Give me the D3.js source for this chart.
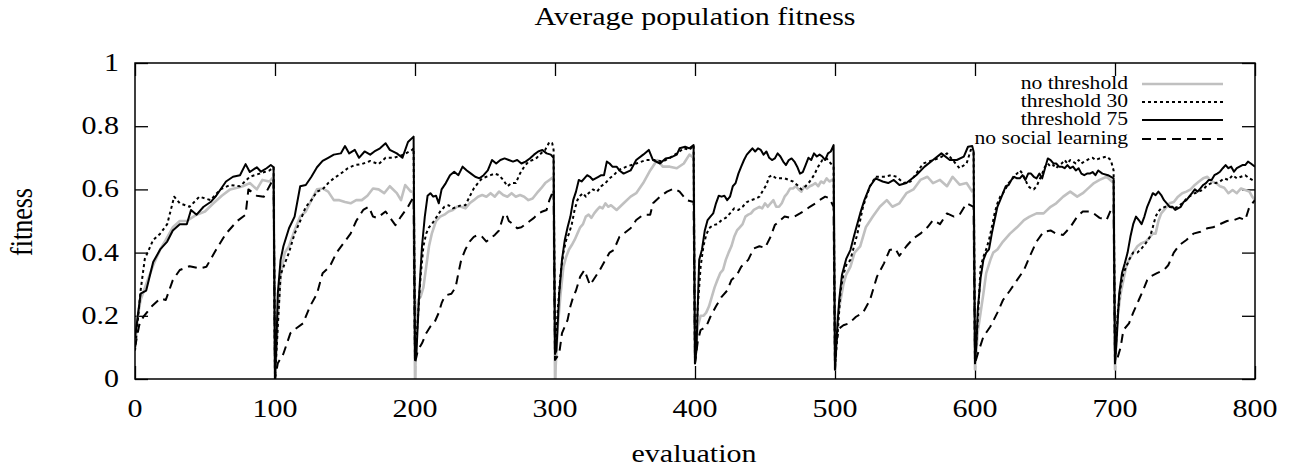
<!DOCTYPE html>
<html><head><meta charset="utf-8">
<script src="https://cdn.jsdelivr.net/npm/d3@7"></script>
<style>
body{margin:0;background:#fff}
svg text{font-family:"Liberation Serif","Times New Roman",serif;fill:#000}
</style>
</head><body>
<svg id="c" width="1289" height="468"></svg>
<script>
const titleText = "Average population fitness";
const xLabelText = "evaluation";
const yLabelText = "fitness";
const seriesNames = ["no threshold","threshold 30","threshold 75","no social learning"];
const xTickValues = [0,100,200,300,400,500,600,700,800];
const xTickLabels = ["0","100","200","300","400","500","600","700","800"];
const yTickValues = [0,0.2,0.4,0.6,0.8,1];
const yTickLabels = ["0","0.2","0.4","0.6","0.8","1"];

// [evaluation, fitness]
const noThreshold = [
[0,0.10],[2,0.2],[4,0.25],[8,0.30],[13,0.36],[18,0.41],[22,0.44],[27,0.48],[32,0.50],[37,0.50],[44,0.52],[50,0.53],[56,0.556],[62,0.58],[68,0.60],[73,0.605],[77,0.61],[82,0.62],[87,0.60],[91,0.63],[96,0.625],[99,0.64],
[100,0.0],[102,0.19],[104,0.33],[107,0.40],[110,0.42],[114,0.47],[118,0.514],[122,0.53],[126,0.566],[130,0.60],[134,0.603],[138,0.593],[142,0.566],[146,0.566],[150,0.56],[154,0.556],[158,0.566],[162,0.566],[166,0.58],[170,0.603],[174,0.60],[178,0.588],[182,0.61],[187,0.588],[190,0.566],[193,0.614],[197,0.593],[199,0.593],
[200,0.0],[202,0.25],[204,0.26],[206,0.29],[208,0.355],[210,0.42],[212,0.46],[215,0.50],[218,0.514],[221,0.52],[224,0.53],[227,0.535],[230,0.545],[233,0.545],[236,0.54],[239,0.556],[242,0.566],[245,0.577],[248,0.582],[251,0.577],[254,0.588],[257,0.577],[260,0.593],[263,0.582],[266,0.577],[269,0.588],[272,0.577],[275,0.582],[278,0.577],[281,0.566],[284,0.571],[287,0.588],[290,0.603],[293,0.62],[296,0.63],[299,0.64],
[300,0.0],[302,0.166],[304,0.27],[306,0.355],[308,0.387],[310,0.41],[312,0.424],[314,0.44],[316,0.46],[318,0.48],[320,0.49],[322,0.514],[324,0.52],[326,0.51],[328,0.524],[330,0.535],[332,0.545],[334,0.54],[336,0.556],[338,0.545],[340,0.55],[344,0.535],[349,0.556],[354,0.577],[358,0.588],[363,0.62],[368,0.66],[373,0.693],[377,0.672],[382,0.672],[387,0.667],[392,0.682],[396,0.71],[399,0.70],
[400,0.05],[402,0.166],[404,0.20],[406,0.20],[408,0.21],[410,0.23],[412,0.26],[414,0.29],[416,0.313],[418,0.335],[420,0.345],[422,0.377],[424,0.40],[426,0.42],[428,0.45],[430,0.47],[432,0.48],[434,0.49],[436,0.514],[438,0.52],[440,0.524],[442,0.535],[444,0.54],[446,0.545],[448,0.54],[450,0.556],[452,0.545],[454,0.556],[456,0.566],[458,0.545],[460,0.545],[462,0.556],[464,0.577],[466,0.588],[468,0.603],[470,0.603],[472,0.61],[474,0.60],[476,0.593],[478,0.61],[480,0.603],[482,0.61],[484,0.614],[486,0.62],[488,0.61],[490,0.625],[492,0.62],[494,0.635],[496,0.625],[498,0.63],[499,0.635],
[500,0.03],[502,0.20],[504,0.25],[506,0.30],[508,0.33],[511,0.355],[514,0.40],[518,0.42],[522,0.48],[527,0.514],[532,0.545],[537,0.566],[541,0.545],[546,0.556],[551,0.588],[556,0.60],[561,0.63],[566,0.64],[570,0.62],[575,0.63],[580,0.61],[584,0.64],[589,0.615],[594,0.62],[598,0.593],[599,0.60],
[600,0.03],[602,0.15],[604,0.21],[606,0.27],[608,0.335],[611,0.377],[613,0.40],[616,0.41],[620,0.435],[625,0.46],[630,0.48],[635,0.503],[639,0.514],[644,0.524],[649,0.524],[654,0.545],[658,0.556],[663,0.577],[668,0.593],[673,0.577],[677,0.588],[680,0.60],[685,0.62],[689,0.63],[694,0.64],[699,0.62],
[700,0.03],[702,0.20],[704,0.27],[706,0.313],[708,0.355],[710,0.377],[713,0.40],[716,0.42],[719,0.43],[722,0.435],[725,0.45],[727,0.46],[729,0.46],[731,0.50],[733,0.524],[736,0.54],[739,0.556],[742,0.56],[745,0.577],[748,0.588],[751,0.593],[754,0.60],[757,0.614],[760,0.625],[763,0.635],[766,0.64],[769,0.625],[772,0.62],[775,0.61],[778,0.605],[781,0.588],[784,0.598],[787,0.588],[790,0.603],[793,0.598],[796,0.593],[798,0.577],[800,0.566]
];

const threshold30 = [
[0,0.09],[4,0.28],[7,0.38],[13,0.44],[18,0.46],[23,0.49],[28,0.577],[32,0.556],[39,0.545],[46,0.577],[54,0.566],[61,0.60],[68,0.614],[75,0.61],[82,0.64],[89,0.65],[96,0.66],[99,0.67],
[100,0.0],[102,0.166],[104,0.33],[107,0.366],[110,0.40],[114,0.46],[118,0.50],[122,0.545],[126,0.566],[130,0.593],[134,0.60],[138,0.62],[142,0.635],[147,0.65],[152,0.667],[157,0.677],[162,0.68],[168,0.69],[174,0.68],[179,0.70],[185,0.70],[192,0.71],[198,0.725],[199,0.73],
[200,0.06],[202,0.187],[204,0.324],[206,0.42],[208,0.46],[210,0.48],[212,0.49],[215,0.51],[218,0.53],[221,0.545],[224,0.55],[227,0.54],[230,0.545],[233,0.55],[236,0.55],[239,0.577],[242,0.603],[245,0.62],[248,0.635],[251,0.64],[254,0.645],[257,0.65],[260,0.645],[263,0.63],[266,0.61],[269,0.62],[272,0.62],[275,0.65],[278,0.672],[281,0.688],[284,0.693],[287,0.70],[290,0.714],[293,0.725],[296,0.75],[298,0.746],[299,0.725],
[300,0.08],[302,0.22],[304,0.335],[306,0.40],[308,0.44],[310,0.46],[312,0.49],[314,0.535],[316,0.566],[318,0.58],[320,0.588],[322,0.577],[324,0.588],[327,0.60],[330,0.593],[333,0.61],[336,0.62],[339,0.635],[342,0.645],[345,0.66],[351,0.672],[358,0.682],[365,0.693],[372,0.693],[377,0.688],[382,0.70],[387,0.714],[392,0.73],[396,0.725],[399,0.74],
[400,0.05],[402,0.23],[404,0.355],[406,0.42],[408,0.456],[410,0.477],[413,0.487],[416,0.49],[419,0.503],[422,0.51],[425,0.524],[428,0.54],[431,0.535],[434,0.545],[437,0.56],[440,0.566],[443,0.57],[446,0.577],[449,0.60],[451,0.614],[453,0.64],[455,0.645],[458,0.635],[461,0.635],[464,0.635],[467,0.63],[470,0.625],[473,0.614],[476,0.60],[479,0.61],[482,0.625],[485,0.645],[488,0.672],[491,0.693],[494,0.698],[497,0.682],[499,0.672],
[500,0.04],[502,0.15],[504,0.28],[506,0.33],[508,0.36],[511,0.377],[516,0.46],[520,0.545],[525,0.61],[529,0.64],[535,0.64],[540,0.645],[544,0.64],[549,0.62],[554,0.625],[558,0.65],[563,0.682],[570,0.693],[575,0.70],[580,0.714],[584,0.693],[589,0.667],[594,0.682],[597,0.725],[599,0.72],
[600,0.05],[602,0.187],[604,0.355],[606,0.387],[608,0.41],[610,0.44],[612,0.48],[614,0.524],[616,0.556],[618,0.577],[620,0.588],[622,0.603],[624,0.62],[626,0.63],[628,0.645],[630,0.65],[632,0.66],[634,0.65],[636,0.63],[638,0.61],[640,0.603],[642,0.60],[644,0.61],[646,0.63],[648,0.65],[650,0.672],[652,0.682],[654,0.672],[656,0.677],[658,0.667],[660,0.677],[662,0.682],[664,0.693],[666,0.682],[668,0.693],[670,0.688],[672,0.682],[674,0.693],[676,0.682],[678,0.688],[680,0.693],[682,0.698],[684,0.70],[686,0.693],[689,0.698],[694,0.704],[697,0.693],[699,0.66],
[700,0.05],[702,0.21],[704,0.29],[706,0.335],[708,0.355],[710,0.377],[713,0.40],[716,0.40],[719,0.413],[722,0.43],[725,0.45],[727,0.48],[729,0.514],[731,0.53],[733,0.54],[736,0.545],[739,0.545],[742,0.54],[745,0.545],[748,0.556],[751,0.57],[754,0.58],[757,0.588],[760,0.593],[763,0.60],[766,0.614],[769,0.62],[772,0.62],[775,0.625],[778,0.635],[781,0.63],[784,0.645],[787,0.635],[790,0.64],[793,0.645],[796,0.635],[800,0.625]
];

const threshold75 = [
[0,0.13],[2,0.2],[4,0.27],[8,0.28],[13,0.37],[18,0.41],[23,0.435],[27,0.47],[32,0.49],[37,0.49],[40,0.535],[44,0.52],[49,0.545],[54,0.56],[58,0.58],[65,0.625],[70,0.64],[75,0.645],[79,0.68],[82,0.655],[87,0.67],[90,0.656],[94,0.667],[97,0.677],[99,0.67],
[100,0.0],[101,0.11],[102,0.27],[104,0.377],[106,0.42],[110,0.477],[114,0.514],[118,0.61],[122,0.614],[126,0.64],[130,0.67],[134,0.69],[138,0.70],[142,0.71],[147,0.714],[150,0.737],[153,0.714],[157,0.725],[160,0.70],[164,0.72],[168,0.71],[171,0.72],[175,0.73],[179,0.746],[182,0.725],[187,0.714],[191,0.70],[195,0.75],[199,0.767],
[200,0.06],[201,0.08],[203,0.27],[205,0.42],[207,0.514],[209,0.58],[211,0.588],[213,0.577],[215,0.58],[217,0.556],[219,0.60],[222,0.62],[225,0.645],[228,0.656],[231,0.645],[234,0.672],[237,0.66],[240,0.65],[243,0.64],[246,0.635],[249,0.645],[252,0.66],[255,0.693],[258,0.682],[261,0.693],[264,0.698],[267,0.693],[270,0.688],[273,0.693],[276,0.682],[279,0.688],[282,0.698],[285,0.71],[288,0.72],[291,0.725],[294,0.714],[297,0.71],[299,0.70],
[300,0.08],[301,0.09],[303,0.27],[305,0.377],[307,0.44],[309,0.48],[311,0.514],[313,0.566],[315,0.593],[317,0.63],[319,0.625],[321,0.635],[323,0.645],[325,0.64],[327,0.63],[329,0.635],[331,0.64],[333,0.645],[335,0.645],[337,0.688],[339,0.682],[341,0.672],[344,0.672],[346,0.66],[349,0.65],[354,0.66],[358,0.693],[363,0.71],[367,0.725],[370,0.693],[375,0.682],[379,0.698],[382,0.70],[387,0.71],[389,0.73],[393,0.735],[396,0.73],[399,0.74],
[400,0.05],[401,0.09],[403,0.377],[405,0.41],[407,0.47],[409,0.503],[411,0.514],[413,0.524],[415,0.556],[417,0.58],[419,0.577],[421,0.58],[423,0.566],[425,0.577],[427,0.61],[429,0.62],[431,0.65],[433,0.672],[435,0.693],[437,0.71],[439,0.72],[441,0.73],[443,0.72],[445,0.73],[447,0.725],[449,0.71],[451,0.72],[453,0.70],[455,0.693],[457,0.698],[459,0.714],[461,0.704],[463,0.688],[465,0.677],[467,0.693],[469,0.698],[471,0.688],[473,0.672],[475,0.65],[477,0.655],[479,0.677],[481,0.70],[483,0.693],[485,0.714],[487,0.704],[489,0.71],[491,0.704],[493,0.693],[495,0.714],[497,0.72],[499,0.74],
[500,0.03],[501,0.12],[503,0.25],[505,0.33],[508,0.38],[511,0.408],[514,0.46],[518,0.524],[521,0.566],[525,0.61],[529,0.635],[534,0.625],[538,0.62],[542,0.63],[546,0.614],[551,0.62],[558,0.645],[564,0.672],[570,0.693],[576,0.714],[582,0.693],[587,0.693],[592,0.704],[595,0.735],[598,0.737],[599,0.72],
[600,0.05],[601,0.11],[602,0.22],[604,0.32],[606,0.377],[608,0.40],[610,0.41],[612,0.46],[614,0.503],[616,0.545],[618,0.566],[620,0.588],[622,0.61],[624,0.614],[626,0.63],[628,0.64],[630,0.635],[632,0.635],[634,0.645],[636,0.63],[638,0.65],[640,0.65],[642,0.64],[644,0.635],[646,0.65],[648,0.635],[650,0.667],[652,0.698],[654,0.693],[656,0.682],[658,0.682],[660,0.672],[662,0.672],[664,0.667],[666,0.677],[668,0.667],[670,0.672],[672,0.66],[674,0.667],[676,0.65],[678,0.645],[680,0.65],[682,0.65],[684,0.655],[686,0.645],[688,0.66],[691,0.65],[695,0.645],[699,0.635],
[700,0.05],[701,0.113],[703,0.27],[705,0.335],[707,0.366],[709,0.40],[711,0.45],[713,0.49],[715,0.514],[717,0.503],[719,0.49],[721,0.514],[723,0.545],[725,0.566],[727,0.588],[729,0.582],[731,0.593],[733,0.582],[735,0.566],[737,0.556],[739,0.545],[741,0.545],[743,0.535],[745,0.54],[747,0.545],[749,0.56],[751,0.566],[753,0.577],[755,0.588],[757,0.60],[759,0.593],[761,0.603],[763,0.614],[765,0.62],[767,0.63],[769,0.63],[771,0.645],[773,0.65],[775,0.656],[777,0.667],[779,0.677],[781,0.667],[783,0.672],[785,0.656],[787,0.667],[789,0.672],[791,0.677],[793,0.677],[795,0.688],[797,0.682],[800,0.672]
];

const noSocialLearning = [
[0,0.1],[3,0.17],[6,0.197],[12,0.23],[18,0.255],[22,0.25],[27,0.313],[32,0.345],[39,0.357],[46,0.35],[51,0.355],[58,0.41],[65,0.46],[73,0.50],[79,0.52],[81,0.60],[87,0.58],[92,0.577],[96,0.61],[99,0.635],
[100,0.0],[102,0.05],[106,0.08],[111,0.145],[115,0.16],[120,0.176],[125,0.23],[130,0.27],[134,0.335],[139,0.355],[144,0.40],[149,0.43],[154,0.46],[158,0.50],[163,0.535],[167,0.545],[170,0.514],[173,0.51],[179,0.53],[186,0.487],[190,0.514],[195,0.545],[199,0.577],
[200,0.05],[202,0.09],[205,0.113],[208,0.145],[211,0.166],[214,0.18],[217,0.21],[219,0.24],[221,0.26],[223,0.266],[226,0.27],[229,0.29],[231,0.335],[233,0.377],[236,0.41],[239,0.435],[242,0.45],[245,0.456],[248,0.45],[251,0.435],[254,0.445],[257,0.456],[260,0.47],[263,0.514],[265,0.524],[267,0.50],[270,0.49],[273,0.477],[276,0.48],[279,0.49],[282,0.50],[285,0.51],[288,0.524],[291,0.53],[294,0.535],[296,0.566],[298,0.588],[299,0.60],
[300,0.06],[303,0.08],[305,0.145],[307,0.166],[309,0.187],[311,0.23],[313,0.26],[315,0.28],[318,0.324],[321,0.345],[325,0.297],[332,0.345],[339,0.40],[342,0.408],[346,0.45],[354,0.477],[358,0.503],[363,0.52],[368,0.52],[370,0.556],[375,0.577],[380,0.593],[385,0.603],[389,0.593],[394,0.566],[399,0.56],
[400,0.05],[402,0.12],[404,0.155],[408,0.166],[411,0.197],[415,0.23],[419,0.26],[423,0.28],[426,0.313],[430,0.33],[433,0.355],[438,0.377],[442,0.413],[446,0.42],[450,0.415],[454,0.45],[457,0.487],[461,0.503],[464,0.514],[468,0.51],[471,0.514],[475,0.524],[479,0.535],[482,0.545],[486,0.556],[489,0.566],[493,0.577],[496,0.572],[499,0.545],
[500,0.03],[501,0.12],[503,0.16],[506,0.17],[510,0.176],[515,0.197],[520,0.21],[525,0.25],[530,0.324],[535,0.366],[539,0.408],[543,0.413],[546,0.39],[551,0.42],[556,0.445],[561,0.46],[566,0.48],[570,0.503],[575,0.49],[580,0.524],[585,0.514],[589,0.52],[594,0.556],[599,0.545],
[600,0.05],[602,0.08],[606,0.134],[611,0.166],[616,0.21],[620,0.25],[625,0.28],[630,0.313],[635,0.345],[639,0.387],[644,0.435],[649,0.466],[654,0.47],[658,0.46],[663,0.456],[668,0.48],[673,0.514],[677,0.53],[682,0.53],[686,0.52],[689,0.51],[694,0.503],[698,0.545],[699,0.55],
[700,0.05],[702,0.07],[704,0.10],[706,0.155],[710,0.176],[713,0.21],[717,0.25],[720,0.28],[723,0.313],[725,0.324],[730,0.335],[735,0.345],[738,0.36],[742,0.40],[746,0.424],[751,0.44],[756,0.46],[761,0.466],[766,0.477],[770,0.48],[775,0.49],[780,0.50],[785,0.503],[789,0.51],[793,0.503],[796,0.545],[800,0.566]
];

const seriesData = [noThreshold, threshold30, threshold75, noSocialLearning];
const seriesStyle = [
  {color:"#c0c0c0", width:2.6, dash:null},
  {color:"#000", width:2, dash:"3,3"},
  {color:"#000", width:2, dash:null},
  {color:"#000", width:2, dash:"9,6"}
];

const L = 135, R = 1255, T = 63, B = 379, SX = 1.2, TICK = 13;
const svg = d3.select("#c");
const x = d3.scaleLinear().domain([0,800]).range([L,R]);
const y = d3.scaleLinear().domain([0,1]).range([B,T]);

function stext(px, py, str, size, anchor, rot) {
  const g = svg.append("g").attr("transform", `translate(${px},${py}) scale(${SX},1)` + (rot ? ` rotate(${rot})` : ""));
  g.append("text").attr("text-anchor", anchor).attr("font-size", size).text(str);
  return g;
}

svg.append("defs").append("clipPath").attr("id","plot").append("rect")
  .attr("x",L).attr("y",T).attr("width",R-L).attr("height",B-T);

// mirrored inward ticks
const axB = d3.axisBottom(x).tickValues(xTickValues).tickSizeInner(-TICK).tickSizeOuter(0).tickFormat("");
const axT = d3.axisTop(x).tickValues(xTickValues).tickSizeInner(-TICK).tickSizeOuter(0).tickFormat("");
const axL = d3.axisLeft(y).tickValues(yTickValues).tickSizeInner(-TICK).tickSizeOuter(0).tickFormat("");
const axR = d3.axisRight(y).tickValues(yTickValues).tickSizeInner(-TICK).tickSizeOuter(0).tickFormat("");
[[axB,`translate(0,${B})`],[axT,`translate(0,${T})`],[axL,`translate(${L},0)`],[axR,`translate(${R},0)`]].forEach(([a,t])=>{
  const g = svg.append("g").attr("transform",t).call(a);
  g.select(".domain").remove();
  g.selectAll("line").attr("stroke","#000").attr("stroke-width",1.3);
});

const line = d3.line().x(d=>x(d[0])).y(d=>y(d[1]));
const plotG = svg.append("g").attr("clip-path","url(#plot)");
seriesData.forEach((data,i)=>{
  const s = seriesStyle[i];
  plotG.append("path").datum(data).attr("d",line).attr("fill","none")
    .attr("stroke",s.color).attr("stroke-width",s.width)
    .attr("stroke-dasharray",s.dash).attr("stroke-linejoin","round");
});

svg.append("rect").attr("x",L).attr("y",T).attr("width",R-L).attr("height",B-T)
  .attr("fill","none").attr("stroke","#000").attr("stroke-width",1.5);

xTickValues.forEach((v,i)=> stext(x(v), 417, xTickLabels[i], 25, "middle"));
yTickValues.forEach((v,i)=> stext(119, y(v)+8, yTickLabels[i], 25, "end"));

stext(695, 25, titleText, 25, "middle");
stext(694, 462, xLabelText, 25, "middle");
stext(32, 222, yLabelText, 26, "middle", -90);

const legY = [89,107,125,144];
seriesNames.forEach((n,i)=>{
  stext(1128, legY[i], n, 18, "end");
  const s = seriesStyle[i];
  svg.append("line").attr("x1",1142).attr("x2",1223).attr("y1",legY[i]-5).attr("y2",legY[i]-5)
    .attr("stroke",s.color).attr("stroke-width",s.width).attr("stroke-dasharray",s.dash);
});
</script>
</body></html>
